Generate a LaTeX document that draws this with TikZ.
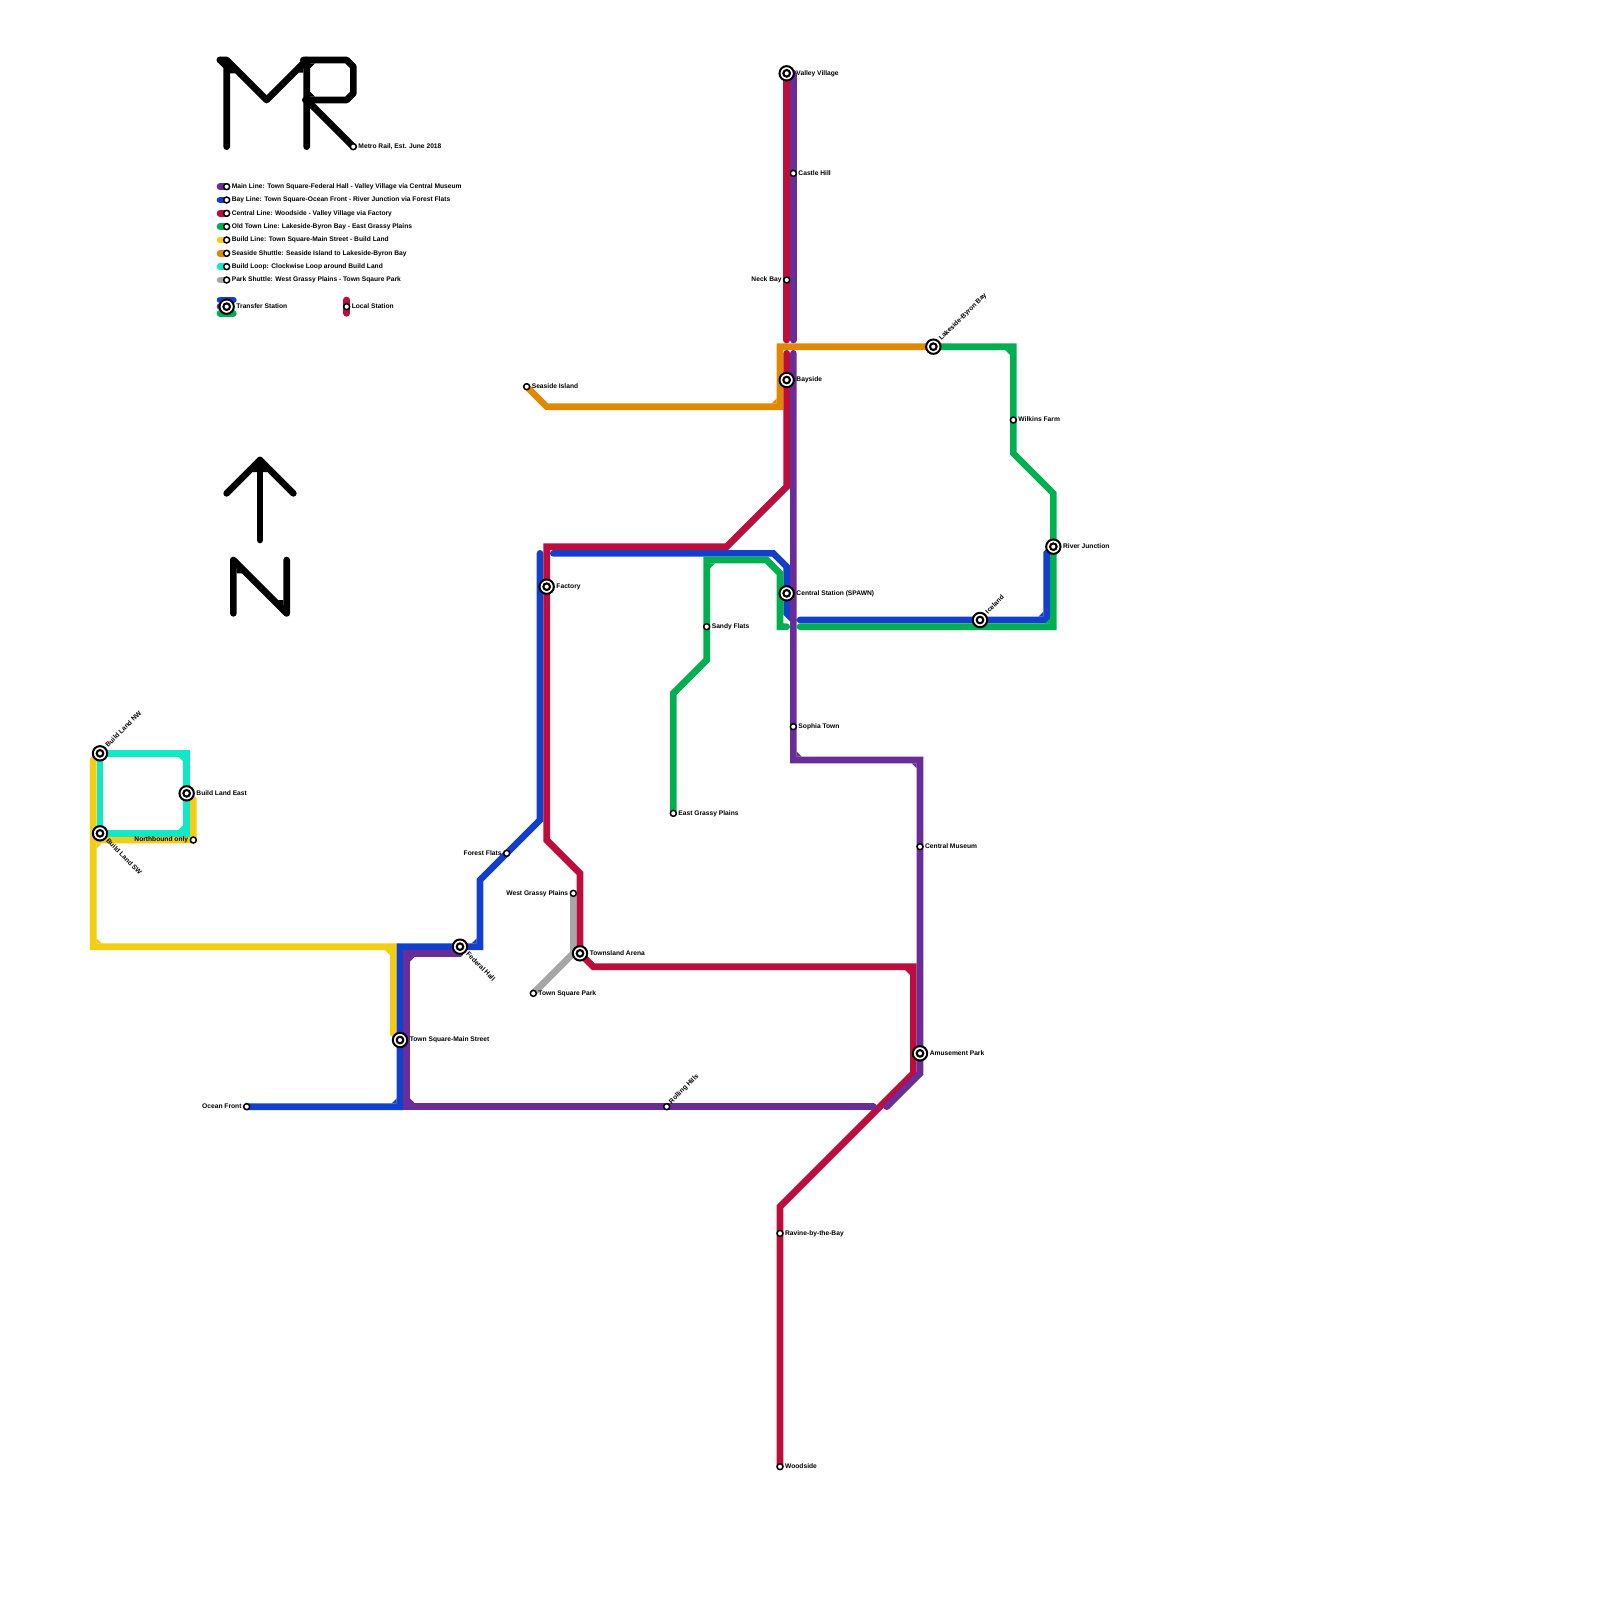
\documentclass[tikz,border=0pt]{standalone}
\usepackage{fontspec}
\setmainfont{Liberation Sans}
\usetikzlibrary{positioning}
\definecolor{mainc}{HTML}{6A2C96}
\definecolor{bayc}{HTML}{1240CC}
\definecolor{centralc}{HTML}{BC0D3C}
\definecolor{oldc}{HTML}{00B050}
\definecolor{buildc}{HTML}{F2CD13}
\definecolor{seasidec}{HTML}{E08900}
\definecolor{loopc}{HTML}{12E8C8}
\definecolor{parkc}{HTML}{A6A6A6}
\pgfdeclarelayer{rails}
\pgfsetlayers{rails,main}
\tikzset{
  rail/.style={line width=6.67pt, line cap=round, line join=miter},
  mainl/.style={rail, draw=mainc}, bayl/.style={rail, draw=bayc},
  centrall/.style={rail, draw=centralc}, oldl/.style={rail, draw=oldc},
  buildl/.style={rail, draw=buildc}, seasidel/.style={rail, draw=seasidec},
  loopl/.style={rail, draw=loopc}, parkl/.style={rail, draw=parkc},
  logo/.style={rail, draw=black, line join=round},
  transfer/.style={circle, draw=black, fill=white, line width=2pt, minimum size=14.4pt, inner sep=0pt,
    path picture={\draw[black, line width=2.1pt] (path picture bounding box.center) circle (3.3pt);}},
  local/.style={circle, draw=black, fill=white, line width=1.5pt, minimum size=6pt, inner sep=0pt},
  lab/.style={font=\fontsize{6.67}{7}\selectfont\bfseries, inner sep=0pt, text height=5pt, text depth=1.66pt},
}
\begin{document}
\begin{tikzpicture}[x=6.6667pt, y=-6.6667pt]
  \useasboundingbox (0,0) rectangle (240,240);
  % stations
  \foreach \n/\x/\y/\t in {valley/118/11/Valley Village, bayside/118/57/Bayside, river/158/82/River Junction, factory/82/88/Factory, central/118/89/{Central Station (SPAWN)}, east/28/119/Build Land East, townsland/87/143/Townsland Arena, townsq/60/156/Town Square-Main Street, amusement/138/158/Amusement Park, legt/34/46/Transfer Station} {
    \node[transfer] (\n) at (\x,\y) {};
    \node[lab, right=1.4pt of \n] (\n-t) {\t};
  }
  \foreach \n/\x/\y/\t in {castle/119/26/Castle Hill, seaside/79/58/Seaside Island, wilkins/152/63/Wilkins Farm, sandy/106/94/Sandy Flats, sophia/119/109/Sophia Town, grassye/101/122/East Grassy Plains, museum/138/127/Central Museum, park/80/149/Town Square Park, ravine/117/185/Ravine-by-the-Bay, woodside/117/220/Woodside, metro/53/22/{Metro Rail, Est. June 2018}, legl/52/46/Local Station} {
    \node[local] (\n) at (\x,\y) {};
    \node[lab, right=1.2pt of \n] (\n-t) {\t};
  }
  \foreach \n/\x/\y/\t in {neck/118/42/Neck Bay, north/29/126/Northbound only, forest/76/128/Forest Flats, grassyw/86/134/West Grassy Plains, ocean/37/166/Ocean Front} {
    \node[local] (\n) at (\x,\y) {};
    \node[lab, left=1.2pt of \n] (\n-t) {\t};
  }
  % slanted labels
  \foreach \n/\x/\y/\r/\t in {lakeside/140/52/45/Lakeside-Byron Bay, iceland/147/93/45/Iceland, nw/15/113/45/Build Land NW, sw/15/125/-45/Build Land SW, federal/69/142/-45/Federal Hall} {
    \node[transfer] (\n) at (\x,\y) {};
    \node[lab, rotate=\r, anchor=west, inner xsep=1.5pt] (\n-t) at (\n.\r) {\t};
  }
  \node[local] (rolling) at (100,166) {};
  \node[lab, rotate=45, anchor=west, inner xsep=1.5pt] (rolling-t) at (rolling.45) {Rolling Hills};
  % legend
  \foreach \n/\s/\y/\t in {a/mainl/28/Main Line: Town Square-Federal Hall - Valley Village via Central Museum, b/bayl/30/Bay Line: Town Square-Ocean Front - River Junction via Forest Flats, c/centrall/32/Central Line: Woodside - Valley Village via Factory, d/oldl/34/Old Town Line: Lakeside-Byron Bay - East Grassy Plains, e/buildl/36/Build Line: Town Square-Main Street - Build Land, f/seasidel/38/Seaside Shuttle: Seaside Island to Lakeside-Byron Bay, g/loopl/40/Build Loop: Clockwise Loop around Build Land, h/parkl/42/Park Shuttle: West Grassy Plains - Town Sqaure Park} {
    \node[local] (leg\n) at (34,\y) {};
    \node[lab, right=1.2pt of leg\n] (leg\n-t) {\t};
    \coordinate (end\n) at (33,\y);
    \begin{pgfonlayer}{rails}
      \draw[\s] (end\n) -- (leg\n.center);
    \end{pgfonlayer}
  }
  % free ends of the rails
  \foreach \n/\x/\y in {mainT/119/11, mainU/119/51, mainV/119/53, mainF/69/143, mainW/131/166, mainE/133/166, bayN/81/83, bayM/83/83, bayS/119/93, bayR/120/93, cenU/118/51, cenV/118/53, oldS/118/94, oldR/120/94, buildT/14/126, legbA/33/45, legbB/35/45, legmA/33/46, leggA/33/47, leggB/35/47, legrA/52/45, legrB/52/47, mA/33/9, mB/34/22, mC/34/9, mD/46/9, mE/46/22, mF/46/15, mG/45.5/9, mH/45.8/15, arrL/34/74, arrT/39/69, arrR/44/74, arrB/39/81, nA/35/92, nB/43/84} \coordinate (\n) at (\x,\y);
  \begin{pgfonlayer}{rails}
    \draw[seasidel] (seaside.center) -- (82,61) -- (117,61) -- (117,52) -- (lakeside.center);
    \draw[buildl] (townsq.center) -- (59,155) -- (59,142) -- (14,142) -- (14,114) -- (nw.center);
    \draw[buildl] (buildT) -- (north.center) -- (29,120) -- (east.center);
    \draw[loopl] (nw.center) -- (28,113) -- (28,125) -- (sw.center) -- cycle;
    \draw[parkl] (grassyw.center) -- (86,143) -- (park.center);
    \draw[bayl] (ocean.center) -- (60,166) -- (60,142) -- (72,142) -- (72,132) -- (81,123) -- (bayN);
    \draw[bayl] (bayM) -- (116,83) -- (118,85) -- (118,92) -- (bayS);
    \draw[bayl] (bayR) -- (157,93) -- (157,83) -- (river.center);
    \draw[oldl] (grassye.center) -- (101,104) -- (106,99) -- (106,84) -- (115,84) -- (117,86) -- (117,94) -- (oldS);
    \draw[oldl] (oldR) -- (158,94) -- (158,74) -- (152,68) -- (152,52) -- (lakeside.center);
    \draw[centrall] (valley.center) -- (cenU);
    \draw[centrall] (cenV) -- (118,73) -- (109,82) -- (82,82) -- (82,126) -- (87,131) -- (townsland.center) -- (89,145) -- (137,145) -- (137,161) -- (117,181) -- (woodside.center);
    \draw[mainl] (mainT) -- (mainU);
    \draw[mainl] (mainV) -- (119,114) -- (138,114) -- (138,161) -- (mainE);
    \draw[mainl] (mainW) -- (61,166) -- (61,143) -- (mainF);
    % inner corners of the bends
    \foreach \c/\x/\y/\sx/\sy in {mainc/61/143/1/1, mainc/61/166/1/-1, mainc/138/114/-1/1, mainc/119/114/1/-1, bayc/60/166/-1/-1, bayc/72/142/-1/-1, bayc/157/93/-1/-1, centralc/137/145/-1/1, oldc/106/84/1/1, oldc/158/94/-1/-1, oldc/152/52/-1/1, buildc/14/126/1/1, buildc/14/142/1/-1, buildc/59/142/-1/1, seasidec/117/61/-1/-1, loopc/28/113/-1/1, loopc/28/125/-1/-1, black/46/9/1/1, black/46/15/1/-1}
      \fill[\c] ({\x+\sx*.5},{\y+\sy*.5}) -- +(\sx*.75,0) -- +(0,\sy*.75) -- cycle;
    % transfer and local keys
    \draw[bayl] (legbA) -- (legbB);
    \draw[mainl] (legmA) -- (legt.center);
    \draw[oldl] (leggA) -- (leggB);
    \draw[centrall] (legrA) -- (legrB);
    % logo
    \draw[logo] (mA) -- (34,10) -- (mB);
    \draw[logo] (mA) -- (mC) -- (40,15) -- (mD) -- (mE);
    \draw[logo] (mG) -- (mD) -- (52,9) -- (53,10) -- (53,14) -- (52,15) -- (mH);
    \draw[logo] (mF) -- (metro.center);
    % north arrow
    \draw[logo] (arrL) -- (arrT) -- (arrR);
    \draw[logo] (arrT) -- (arrB);
    \draw[logo] (nA) -- (35,84) -- (43,92) -- (nB);
    % notches where the logo strokes meet
    \foreach \a/\b/\c in {{37.9,70.8}/{40.1,70.8}/{39,69.7}, {35.5,85.2}/{35.5,86}/{36.3,86}, {42.5,90.8}/{42.5,90}/{41.7,90}, {34.5,10.2}/{34.5,11}/{35.3,11}, {45.5,10.2}/{45.5,10.9}/{44.8,10.9}}
      \fill[black] (\a) -- (\b) -- (\c) -- cycle;
  \end{pgfonlayer}
\end{tikzpicture}
\end{document}
